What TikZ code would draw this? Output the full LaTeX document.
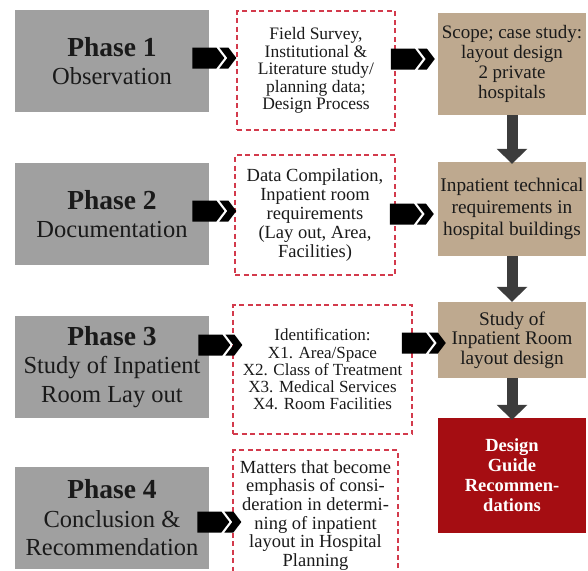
\documentclass[tikz,border=0pt]{standalone}
\usepackage{fontspec}
\setmainfont{Liberation Serif}
\usetikzlibrary{arrows.meta,calc}
\definecolor{phasegray}{HTML}{A0A0A0}
\definecolor{tanbox}{HTML}{BEA98F}
\definecolor{redbox}{HTML}{A50D12}
\definecolor{dashred}{HTML}{D33A4C}
\definecolor{darkarrow}{HTML}{3C3C3C}
\definecolor{ink}{HTML}{1A1A1A}
\tikzset{
  phase/.style={fill=phasegray, draw=none, minimum width=194pt, minimum height=102pt, inner sep=0pt, align=center, text=ink, font=\fontsize{24.5}{28.5}\selectfont},
  dbox/.style={draw=dashred, line width=1.3pt, dash pattern=on 5pt off 3.5pt, inner sep=0pt, align=center, text=ink},
  rbox/.style={fill=tanbox, draw=none, minimum width=148pt, inner sep=0pt, align=center, text=ink},
  finalbox/.style={fill=redbox, draw=none, minimum width=148pt, minimum height=115pt, inner sep=0pt, align=center, text=white, font=\fontsize{18.5}{20}\selectfont\bfseries},
  darr/.style={draw=darkarrow, line width=11pt, -{Triangle[width=30pt,length=15pt]}},
  chev/.pic={
    \fill[black] (-44,-10.5) -- (-20,-10.5) -- (-12,0) -- (-20,10.5) -- (-44,10.5) -- cycle;
    \fill[black] (-17,-10.5) -- (-8,-10.5) -- (0,0) -- (-8,10.5) -- (-17,10.5) -- (-9,0) -- cycle;
  }
}
\newcommand{\ptitle}[1]{{\fontsize{27.5}{28.5}\selectfont\bfseries #1}}
\begin{document}
\begin{tikzpicture}[x=1pt,y=-1pt]
\useasboundingbox (0,0) rectangle (588,570);
\clip (0,0) rectangle (588,570);
% phase boxes
\node[phase] (p1) at (112,61) {\ptitle{Phase 1}\\Observation};
\node[phase] (p2) at (112,214) {\ptitle{Phase 2}\\Documentation};
\node[phase] (p3) at (112,367) {\ptitle{Phase 3}\\Study of Inpatient\\Room Lay out};
\node[phase] (p4) at (112,518) {\ptitle{Phase 4}\\Conclusion \&\\Recommendation};
% dashed boxes
\node[dbox, minimum width=158pt, minimum height=119pt, font=\fontsize{17.5}{17.5}\selectfont] (d1) at (316,70.5)
  {Field Survey,\\Institutional \&\\Literature study/\\planning data;\\Design Process};
\node[dbox, minimum width=160pt, minimum height=120pt, font=\fontsize{18.5}{18.8}\selectfont] (d2) at (315,215)
  {Data Compilation,\\Inpatient room\\requirements\\(Lay out, Area,\\Facilities)};
\node[dbox, minimum width=179pt, minimum height=129pt, font=\fontsize{17}{17.2}\selectfont] (d3) at (322.5,369.5)
  {Identification:\\X1. Area/Space\\X2. Class of Treatment\\X3. Medical Services\\X4. Room Facilities};
\node[dbox, minimum width=165pt, minimum height=140pt] (d4) at (315.5,520) {};
\node[anchor=north, align=center, inner sep=0pt, text=ink, font=\fontsize{18.5}{18.6}\selectfont] (d4t) at ($(d4.north)+(0,11)$)
  {Matters that become\\emphasis of consi-\\deration in determi-\\ning of inpatient\\layout in Hospital\\Planning};
% right column
\node[rbox, minimum height=102pt, font=\fontsize{19}{20}\selectfont] (r1) at (512,64)
  {Scope; case study:\\layout design\\2 private\\hospitals};
\node[rbox, minimum height=94pt, font=\fontsize{19.3}{22}\selectfont] (r2) at (512,209)
  {Inpatient technical\\requirements in\\hospital buildings};
\node[rbox, minimum height=76pt, font=\fontsize{19.3}{19.5}\selectfont] (r3) at (512,340)
  {Study of\\Inpatient Room\\layout design};
\node[finalbox] (r4) at (512,475.5) {Design\\Guide\\Recommen-\\dations};
% vertical arrows
\draw[darr] (r1.south) -- ($(r2.north)+(0,2)$);
\draw[darr] (r2.south) -- (r3.north);
\draw[darr] (r3.south) -- ($(r4.north)+(0,2)$);
% chevron arrows
\pic at ($(d1.west)+(0,-12.5)$) {chev};
\pic at ($(r1.west)+(-3,-5)$) {chev};
\pic at ($(d2.west)+(2,-4)$) {chev};
\pic at ($(r2.west)+(-4,5)$) {chev};
\pic at ($(d3.west)+(10,-24.5)$) {chev};
\pic at ($(r3.west)+(8,3)$) {chev};
\pic at ($(d4.west)+(9,2)$) {chev};
\end{tikzpicture}
\end{document}
